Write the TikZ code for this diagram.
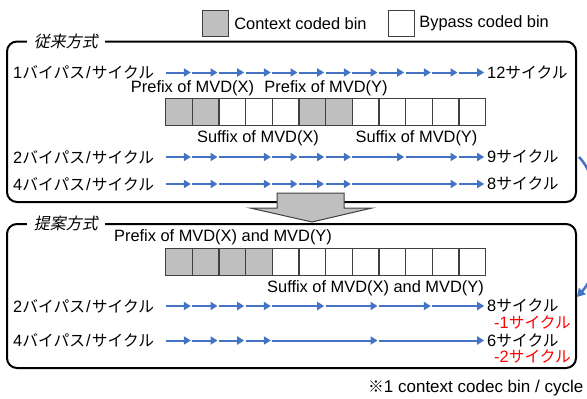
\documentclass[tikz,border=0pt]{standalone}
\usepackage{fontspec}
\setmainfont{Liberation Sans}
\newfontfamily\jpf{Noto Sans CJK JP}
\newcommand\jp{\fontsize{15.75}{18}\selectfont\jpf}
\newfontfamily\jpit[FakeSlant=0.2]{Noto Sans CJK JP}
\newcommand\bps{{\jp バイパス}\kern1.2pt/\kern1.2pt{\jp サイクル}}
\newcommand\cyc{{\jp サイクル}}
\usetikzlibrary{arrows.meta}
\definecolor{arrblue}{RGB}{68,114,196}
\definecolor{bingray}{RGB}{191,191,191}
\definecolor{binline}{RGB}{64,64,64}
\begin{document}
\begin{tikzpicture}[x=1pt,y=-1pt,
  seg/.style={draw=arrblue, line width=2, shorten <=0.8pt, shorten >=0.8pt, -{Triangle[length=7,width=8]}},
  bin/.style={draw=binline, line width=1.2, minimum width=26.667, minimum height=27, inner sep=0, anchor=north west},
  lbl/.style={font=\fontsize{16.4}{18}\selectfont, inner sep=0},
  panel/.style={draw=black, line width=2, rounded corners=10},
  ptitle/.style={font=\fontsize{16}{18}\selectfont\jpit, fill=white, inner xsep=7, inner ysep=0},
  redl/.style={lbl, text=red, anchor=west}
]
\useasboundingbox (0,0) rectangle (587,399);

% legend
\node[bin, fill=bingray, minimum width=26, minimum height=26] (lg1) at (202,10) {};
\node[lbl, anchor=west] (lg1t) at ([xshift=5]lg1.east) {Context coded bin};
\node[bin, fill=white, minimum width=26, minimum height=26] (lg2) at (388,10) {};
\node[lbl, anchor=west] (lg2t) at ([xshift=4]lg2.east) {Bypass coded bin};

% panels
\draw[panel] (7,41.5) rectangle (576,202);
\node[ptitle] (t1) at (66,41) {従来方式};
\draw[panel] (7,224) rectangle (576,368);
\node[ptitle] (t2) at (66,223) {提案方式};

% block arrow between panels
\draw[fill=bingray, draw=binline, line width=1] (277,193) -- (344,193) -- (344,208) -- (372,208) -- (312,222) -- (250,208) -- (277,208) -- cycle;

% tick coordinates
\foreach \r/\y in {A/72.5,B/157,C/184,D/306,E/340.5}
  \foreach \k in {0,...,12}
    \coordinate (\r\k) at ({165+26.667*\k},\y);

% upper bins
\foreach \k in {0,1,5,6}
  \node[bin, fill=bingray] (u\k) at ({165+26.667*\k},98) {};
\foreach \k in {2,3,4,7,8,9,10,11}
  \node[bin, fill=white] (u\k) at ({165+26.667*\k},98) {};
% lower bins
\foreach \k in {0,1,2,3}
  \node[bin, fill=bingray] (l\k) at ({165+26.667*\k},248) {};
\foreach \k in {4,...,11}
  \node[bin, fill=white] (l\k) at ({165+26.667*\k},248) {};

% bin labels
\node[lbl] (px) at (192.5,88) {Prefix of MVD(X)};
\node[lbl] (py) at (326,88) {Prefix of MVD(Y)};
\node[lbl] (sx) at (258,138) {Suffix of MVD(X)};
\node[lbl] (sy) at (416.5,138) {Suffix of MVD(Y)};
\node[lbl] (pxy) at (223,237) {Prefix of MVD(X) and MVD(Y)};
\node[lbl] (sxy) at (375.5,288) {Suffix of MVD(X) and MVD(Y)};

% arrow rows
\foreach \a/\b in {0/1,1/2,2/3,3/4,4/5,5/6,6/7,7/8,8/9,9/10,10/11,11/12}
  \draw[seg] (A\a) -- (A\b);
\foreach \a/\b in {0/1,1/2,2/4,4/5,5/6,6/7,7/9,9/11,11/12}
  \draw[seg] (B\a) -- (B\b);
\foreach \a/\b in {0/1,1/2,2/4,4/5,5/6,6/7,7/11,11/12}
  \draw[seg] (C\a) -- (C\b);
\foreach \a/\b in {0/1,1/2,2/3,3/4,4/6,6/8,8/10,10/12}
  \draw[seg] (D\a) -- (D\b);
\foreach \a/\b in {0/1,1/2,2/3,3/4,4/8,8/12}
  \draw[seg] (E\a) -- (E\b);

% row labels
\node[lbl, anchor=west] (LA) at (13,72.5) {1\bps};
\node[lbl, anchor=west] (LB) at (13,157) {2\bps};
\node[lbl, anchor=west] (LC) at (13,184) {4\bps};
\node[lbl, anchor=west] (LD) at (13,306) {2\bps};
\node[lbl, anchor=west] (LE) at (13,340.5) {4\bps};

\node[lbl, anchor=west] (RA) at ([xshift=2]A12) {12\cyc};
\node[lbl, anchor=west] (RB) at ([xshift=2]B12) {9\cyc};
\node[lbl, anchor=west] (RC) at ([xshift=2]C12) {8\cyc};
\node[lbl, anchor=west] (RD) at ([xshift=2]D12) {8\cyc};
\node[lbl, anchor=west] (RE) at ([xshift=2]E12) {6\cyc};
\node[redl] (dD) at (494,322.5) {-1\cyc};
\node[redl] (dE) at (494,357) {-2\cyc};

% curved arrow
\coordinate (cs) at (579,157);
\coordinate (ce) at (577,297);
\draw[arrblue, line width=2.5, -{Triangle[length=8,width=9]}] (cs) .. controls (606,185) and (606,265) .. (ce);

% footnote
\node[lbl, font=\fontsize{17}{19}\selectfont, anchor=west] (fn) at (368,388) {{\jp ※}1 context codec bin / cycle};
\end{tikzpicture}
\end{document}
